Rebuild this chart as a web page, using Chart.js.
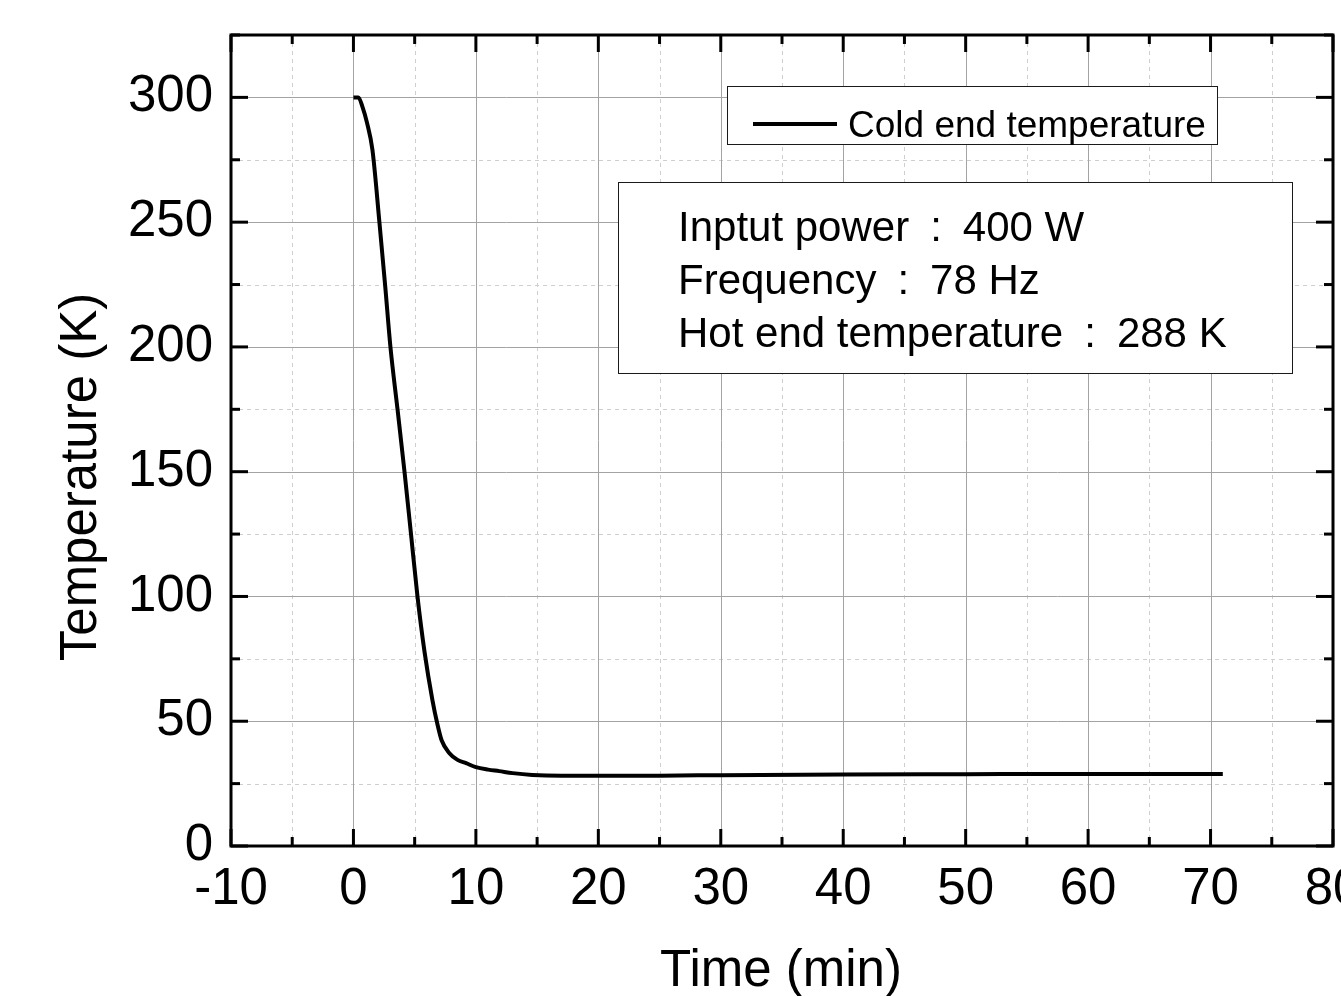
<!DOCTYPE html>
<html>
<head>
<meta charset="utf-8">
<script src="https://cdn.jsdelivr.net/npm/chart.js@4.4.0/dist/chart.umd.min.js"></script>
<style>
html,body{margin:0;padding:0;background:#ffffff;}
#wrap{width:1341px;height:996px;position:relative;}
</style>
</head>
<body>
<div id="wrap"><canvas id="c"></canvas></div>
<script>
// ---- data ----
const timeMin = [0, 0.4, 0.75, 1.1, 1.55, 2.12, 2.6, 3.02, 3.6, 4.17, 4.7, 5.23, 5.8, 6.45, 6.85, 7.2, 7.84, 8.5, 9.2, 10, 11, 11.9, 13, 14.6, 17, 20, 25, 30, 40, 50, 60, 71];
const coldEndTemp = [300, 300, 296, 290, 279, 250, 224, 200, 175, 150, 125, 100, 78, 58.5, 49, 42.4, 37.2, 34.5, 33.2, 31.6, 30.6, 30, 29.2, 28.5, 28.2, 28.2, 28.2, 28.4, 28.7, 28.8, 28.9, 28.9];
const seriesLabel = 'Cold end temperature';
const xMajor = [-10, 0, 10, 20, 30, 40, 50, 60, 70, 80];
const xMinor = [-5, 5, 15, 25, 35, 45, 55, 65, 75];
const yMajor = [0, 50, 100, 150, 200, 250, 300];
const yMinor = [25, 75, 125, 175, 225, 275, 325];
const xTitle = 'Time (min)';
const yTitle = 'Temperature (K)';
const infoLines = ['Inptut power\u2002:\u2002400 W', 'Frequency\u2002:\u200278 Hz', 'Hot end temperature\u2002:\u2002288 K'];

const FONT = '"Liberation Sans", Arial, sans-serif';

const decor = {
  id: 'decor',
  beforeDatasetsDraw(chart) {
    const {ctx, chartArea: a, scales: {x, y}} = chart;
    ctx.save();
    ctx.lineWidth = 1;
    // minor dashed grid
    ctx.strokeStyle = '#cfcfcf';
    ctx.setLineDash([4, 4]);
    xMinor.forEach(v => {
      const p = Math.round(x.getPixelForValue(v)) + 0.5;
      ctx.beginPath(); ctx.moveTo(p, a.top); ctx.lineTo(p, a.bottom); ctx.stroke();
    });
    yMinor.forEach(v => {
      const p = Math.round(y.getPixelForValue(v)) + 0.5;
      ctx.beginPath(); ctx.moveTo(a.left, p); ctx.lineTo(a.right, p); ctx.stroke();
    });
    // major solid grid
    ctx.setLineDash([]);
    ctx.strokeStyle = '#a3a3a3';
    xMajor.forEach(v => {
      const p = Math.round(x.getPixelForValue(v)) + 0.5;
      ctx.beginPath(); ctx.moveTo(p, a.top); ctx.lineTo(p, a.bottom); ctx.stroke();
    });
    yMajor.forEach(v => {
      const p = Math.round(y.getPixelForValue(v)) + 0.5;
      ctx.beginPath(); ctx.moveTo(a.left, p); ctx.lineTo(a.right, p); ctx.stroke();
    });
    ctx.restore();
  },
  afterDatasetsDraw(chart) {
    const {ctx} = chart;
    const ds = chart.data.datasets[0];
    ctx.save();
    // legend box
    ctx.fillStyle = '#ffffff';
    ctx.fillRect(727, 86, 490, 58);
    ctx.strokeStyle = '#1a1a1a';
    ctx.lineWidth = 1;
    ctx.strokeRect(727.5, 86.5, 490, 58);
    ctx.strokeStyle = ds.borderColor;
    ctx.lineWidth = 4;
    ctx.beginPath(); ctx.moveTo(753, 124); ctx.lineTo(837, 124); ctx.stroke();
    ctx.fillStyle = '#000';
    ctx.font = '37px ' + FONT;
    ctx.textBaseline = 'alphabetic';
    ctx.textAlign = 'left';
    ctx.fillText(ds.label, 848, 137);
    // info box
    ctx.fillStyle = '#ffffff';
    ctx.fillRect(618, 182, 674, 191);
    ctx.strokeStyle = '#1a1a1a';
    ctx.lineWidth = 1;
    ctx.strokeRect(618.5, 182.5, 674, 191);
    ctx.fillStyle = '#000';
    ctx.font = '42px ' + FONT;
    infoLines.forEach((t, i) => ctx.fillText(t, 678, 241 + i * 53));
    ctx.restore();
  },
  afterDraw(chart) {
    const {ctx, chartArea: a, scales: {x, y}} = chart;
    ctx.save();
    ctx.strokeStyle = '#000';
    ctx.lineWidth = 3;
    ctx.strokeRect(a.left, a.top, a.right - a.left, a.bottom - a.top);
    const tick = (x1, y1, x2, y2) => { ctx.beginPath(); ctx.moveTo(x1, y1); ctx.lineTo(x2, y2); ctx.stroke(); };
    xMajor.forEach(v => {
      const p = x.getPixelForValue(v);
      tick(p, a.bottom, p, a.bottom - 17);
      tick(p, a.top, p, a.top + 17);
    });
    xMinor.forEach(v => {
      const p = x.getPixelForValue(v);
      tick(p, a.bottom, p, a.bottom - 9);
      tick(p, a.top, p, a.top + 9);
    });
    yMajor.forEach(v => {
      const p = y.getPixelForValue(v);
      tick(a.left, p, a.left + 17, p);
      tick(a.right, p, a.right - 17, p);
    });
    yMinor.forEach(v => {
      const p = y.getPixelForValue(v);
      tick(a.left, p, a.left + 9, p);
      tick(a.right, p, a.right - 9, p);
    });
    // axis titles
    ctx.fillStyle = '#000';
    ctx.font = '51px ' + FONT;
    ctx.textAlign = 'center';
    ctx.textBaseline = 'alphabetic';
    ctx.fillText(xTitle, 781, 986);
    ctx.translate(96, 477);
    ctx.rotate(-Math.PI / 2);
    ctx.fillText(yTitle, 0, 0);
    ctx.restore();
  }
};

new Chart(document.getElementById('c'), {
  type: 'line',
  data: {
    datasets: [{
      label: seriesLabel,
      data: timeMin.map((t, i) => ({x: t, y: coldEndTemp[i]})),
      borderColor: '#000000',
      borderWidth: 4,
      pointRadius: 0,
      fill: false,
      cubicInterpolationMode: 'monotone'
    }]
  },
  options: {
    responsive: true,
    maintainAspectRatio: false,
    animation: false,
    layout: {padding: {top: 35, right: 8, left: 0, bottom: 0}},
    plugins: {legend: {display: false}, tooltip: {enabled: false}},
    scales: {
      x: {
        type: 'linear', min: -10, max: 80,
        afterBuildTicks: s => { s.ticks = xMajor.map(v => ({value: v})); },
        afterFit: s => { s.height = 150; s.paddingLeft = 0; s.paddingRight = 0; },
        grid: {display: false, drawTicks: false},
        border: {display: false},
        ticks: {color: '#000', font: {family: FONT, size: 51}, padding: 13, maxRotation: 0, autoSkip: false},
        title: {display: false}
      },
      y: {
        type: 'linear', min: 0, max: 325,
        afterBuildTicks: s => { s.ticks = yMajor.map(v => ({value: v})); },
        afterFit: s => { s.width = 231; s.paddingTop = 0; s.paddingBottom = 0; },
        grid: {display: false, drawTicks: false},
        border: {display: false},
        ticks: {color: '#000', font: {family: FONT, size: 51}, padding: 18, autoSkip: false},
        title: {display: false}
      }
    }
  },
  plugins: [decor]
});
</script>
</body>
</html>
